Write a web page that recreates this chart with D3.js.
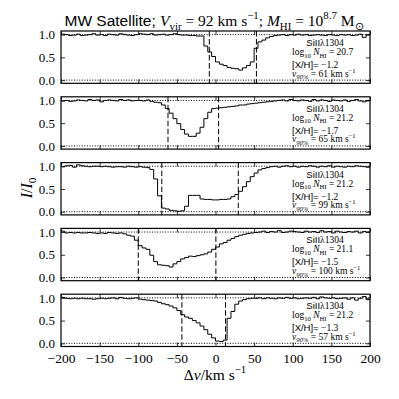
<!DOCTYPE html>
<html lang="en">
<head>
<meta charset="UTF-8">
<script src="https://d3js.org/d3.v7.min.js"></script>
<title>MW Satellite SiII</title>
<style>
    body { margin: 0; background: #fff; }
    svg { display: block; }
    .serif { font-family: "Liberation Serif", serif; }
    .tick text { font-family: "Liberation Serif", serif; fill: #000; }
</style>
</head>
<body>
<div id="chart"></div>
<script>
// bin left edges, km/s (5 km/s pixels)
var velBins = d3.range(-200, 200, 5);

// normalised flux per panel (80 bins each, -200 .. 195)
var flux1 = [
    1.01, 1.00, 0.98, 0.99, 1.01, 0.98, 0.99, 1.00, 1.02, 0.99,
    1.00, 0.98, 1.01, 1.00, 0.99, 1.02, 1.00, 0.99, 0.98, 1.00,
    1.02, 1.01, 1.00, 1.02, 0.99, 1.00, 1.01, 0.99, 1.00, 1.02,
    1.00, 0.99, 0.99, 0.98, 0.98, 0.97, 0.97, 0.75, 0.62, 0.52,
    0.40, 0.35, 0.32, 0.28, 0.26, 0.25, 0.22, 0.27, 0.32, 0.40,
    0.70, 0.84, 0.88, 0.93, 0.96, 0.98, 0.99, 1.00, 0.98, 1.00,
    0.99, 1.01, 0.99, 1.00, 0.98, 0.99, 1.00, 0.99, 0.98, 1.00,
    0.99, 0.98, 1.00, 0.99, 1.00, 0.98, 0.99, 1.01, 0.94, 1.00
];
var flux2 = [
    0.99, 1.00, 0.98, 0.99, 1.01, 1.00, 0.99, 1.02, 1.00, 1.01,
    0.97, 1.00, 1.01, 1.00, 0.99, 1.02, 1.00, 1.01, 0.99, 1.00,
    1.00, 0.99, 1.01, 0.98, 0.96, 0.95, 0.90, 0.82, 0.72, 0.60,
    0.49, 0.36, 0.26, 0.21, 0.21, 0.28, 0.41, 0.60, 0.74, 0.82,
    0.83, 0.84, 0.85, 0.86, 0.87, 0.88, 0.90, 0.90, 0.92, 0.93,
    0.94, 0.95, 0.96, 0.97, 0.98, 0.99, 1.00, 1.01, 0.99, 1.02,
    1.00, 0.99, 1.01, 1.00, 0.98, 1.02, 0.99, 1.01, 1.00, 0.98,
    1.01, 1.00, 0.99, 1.01, 0.98, 1.00, 1.02, 0.99, 0.97, 1.00
];
var flux3 = [
    0.99, 1.01, 1.02, 0.98, 1.03, 1.01, 1.00, 0.99, 1.00, 1.00,
    0.99, 1.00, 0.99, 0.98, 0.99, 0.99, 0.98, 1.00, 0.99, 0.98,
    0.99, 0.98, 0.97, 0.93, 0.72, 0.35, 0.08, 0.06, 0.03, 0.02,
    0.01, 0.02, 0.12, 0.36, 0.36, 0.36, 0.28, 0.27, 0.27, 0.26,
    0.26, 0.27, 0.27, 0.28, 0.33, 0.38, 0.45, 0.55, 0.66, 0.77,
    0.85, 0.92, 0.95, 0.97, 0.99, 1.00, 0.98, 1.00, 1.01, 0.99,
    1.00, 0.98, 1.00, 0.99, 1.01, 1.00, 0.98, 1.00, 0.99, 1.01,
    0.98, 1.00, 0.99, 0.98, 1.00, 0.99, 1.01, 1.00, 0.99, 0.98
];
var flux4 = [
    1.02, 0.98, 0.99, 0.98, 0.99, 0.98, 0.98, 0.99, 0.98, 0.97,
    0.98, 0.97, 0.99, 0.98, 0.97, 0.98, 0.96, 0.93, 0.91, 0.82,
    0.70, 0.65, 0.62, 0.49, 0.35, 0.28, 0.27, 0.26, 0.23, 0.30,
    0.35, 0.41, 0.44, 0.47, 0.46, 0.48, 0.50, 0.52, 0.56, 0.62,
    0.67, 0.74, 0.77, 0.82, 0.86, 0.90, 0.93, 0.95, 0.97, 0.98,
    0.99, 1.00, 1.02, 0.99, 1.01, 1.00, 1.03, 0.99, 1.00, 1.02,
    1.01, 1.00, 0.99, 1.02, 1.00, 1.01, 0.99, 1.03, 1.00, 1.01,
    0.98, 1.02, 1.00, 0.99, 1.01, 1.00, 1.02, 0.98, 1.01, 1.00
];
var flux5 = [
    1.01, 0.99, 0.98, 0.99, 0.98, 0.99, 0.98, 0.98, 0.97, 0.98,
    0.99, 0.98, 0.99, 1.00, 0.98, 1.01, 0.99, 0.98, 0.99, 1.00,
    0.97, 0.96, 0.95, 0.94, 0.93, 0.90, 0.87, 0.85, 0.82, 0.78,
    0.72, 0.63, 0.58, 0.55, 0.50, 0.45, 0.38, 0.30, 0.20, 0.12,
    0.05, 0.04, 0.07, 0.55, 0.70, 0.86, 0.93, 0.96, 0.98, 0.99,
    0.99, 1.00, 0.98, 1.00, 0.99, 0.98, 1.00, 0.99, 1.01, 0.99,
    1.00, 0.98, 0.99, 1.00, 0.99, 1.01, 0.98, 1.02, 1.00, 0.99,
    1.00, 0.98, 0.99, 1.00, 0.97, 1.00, 0.95, 0.99, 1.03, 0.96
];
var fluxes = [flux1, flux2, flux3, flux4, flux5];

// per-panel annotations
var logNHI = ["20.7", "21.2", "21.2", "21.1", "21.2"];
var metal = ["\u22121.2", "\u22121.7", "\u22121.2", "\u22121.5", "\u22121.3"];
var v90 = ["61", "65", "99", "100", "57"];
// v90 window edges (dashed lines), km/s
var v90Lo = [-8, -61.5, -69.5, -100, -43.5];
var v90Hi = [53, 4, 29.5, 0.5, 13];

var xTicks = [-200, -150, -100, -50, 0, 50, 100, 150, 200];
var yTicks = [0, 0.5, 1];

var W = 399, H = 399;
var left = 61, right = 370, top0 = 31, step = 65.8, ph = 52.3;
var pw = right - left;
var SANS = "'Liberation Sans', Arial, sans-serif";

var svg = d3.select("#chart").append("svg")
    .attr("width", W).attr("height", H);

var x = d3.scaleLinear().domain([-200, 200]).range([0, pw]);
var y = d3.scaleLinear().domain([-0.07, 1.08]).range([ph, 0]);

// write text with italic / sub / sup pieces
function rich(sel, parts, size) {
    var shift = 0;
    parts.forEach(function(p) {
        var t = p[0], o = p[1] || "";
        var target = o.indexOf("sub") >= 0 ? size * 0.28 : (o.indexOf("sup") >= 0 ? -size * 0.42 : 0);
        var ts = sel.append("tspan").text(t).attr("dy", target - shift);
        shift = target;
        if (o.indexOf("sub") >= 0 || o.indexOf("sup") >= 0) ts.style("font-size", (size * 0.7) + "px");
        if (o.indexOf("it") >= 0) ts.style("font-style", "italic");
        if (o.indexOf("sans") >= 0) ts.style("font-family", SANS);
    });
}

var line = d3.line()
    .x(function(d) { return x(d[0]); })
    .y(function(d) { return y(d[1]); })
    .curve(d3.curveStepAfter);

fluxes.forEach(function(fl, i) {
    var g = svg.append("g")
        .attr("transform", "translate(" + left + "," + (top0 + i * step) + ")");

    g.append("clipPath").attr("id", "clip" + i)
        .append("rect").attr("width", pw).attr("height", ph);

    // dotted reference lines at 0 and 1
    [0, 1].forEach(function(v) {
        g.append("line")
            .attr("x1", 0).attr("x2", pw)
            .attr("y1", y(v)).attr("y2", y(v))
            .attr("stroke", "#000").attr("stroke-width", 1)
            .attr("stroke-dasharray", "1,1.6");
    });

    // spectrum
    var pts = velBins.map(function(v, k) { return [v, fl[k]]; });
    pts.push([200, fl[fl.length - 1]]);
    g.append("path")
        .datum(pts)
        .attr("clip-path", "url(#clip" + i + ")")
        .attr("fill", "none")
        .attr("stroke", "#000")
        .attr("stroke-width", 1)
        .attr("d", line);

    // v90 window
    [v90Lo[i], v90Hi[i]].forEach(function(v) {
        g.append("line")
            .attr("x1", x(v)).attr("x2", x(v))
            .attr("y1", 0).attr("y2", ph)
            .attr("stroke", "#000").attr("stroke-width", 1)
            .attr("stroke-dasharray", "5.5,2.5");
    });

    // ticks pointing inward on all four sides
    var isLast = i === fluxes.length - 1;
    var bx = g.append("g").attr("transform", "translate(0," + ph + ")")
        .call(d3.axisBottom(x).tickValues(xTicks).tickSizeInner(-4).tickSizeOuter(0).tickPadding(7)
            .tickFormat(isLast ? d3.format("") : ""));
    var tx = g.append("g")
        .call(d3.axisTop(x).tickValues(xTicks).tickSizeInner(-4).tickSizeOuter(0).tickFormat(""));
    var ly = g.append("g")
        .call(d3.axisLeft(y).tickValues(yTicks).tickSizeInner(-4).tickSizeOuter(0).tickPadding(6)
            .tickFormat(d3.format(".1f")));
    var ry = g.append("g").attr("transform", "translate(" + pw + ",0)")
        .call(d3.axisRight(y).tickValues(yTicks).tickSizeInner(-4).tickSizeOuter(0).tickFormat(""));
    [bx, tx, ly, ry].forEach(function(a) {
        a.attr("font-family", null).attr("font-size", null);
        a.select(".domain").remove();
        a.selectAll(".tick line").attr("stroke", "#000").attr("stroke-width", 0.8);
    });
    bx.selectAll("text").style("font-size", "13.5px");
    ly.selectAll("text").style("font-size", "13px");

    // frame
    g.append("rect")
        .attr("width", pw).attr("height", ph)
        .attr("fill", "none").attr("stroke", "#000").attr("stroke-width", 1.2);

    // annotation block
    var fs = 9.5;
    var t1 = g.append("text").attr("class", "serif").style("font-size", fs + "px")
        .attr("x", 325 - left).attr("y", 15).attr("text-anchor", "middle");
    rich(t1, [["SiII", "sans"], ["\u03bb1304"]], fs);
    var t2 = g.append("text").attr("class", "serif").style("font-size", fs + "px")
        .attr("x", 292 - left).attr("y", 24);
    rich(t2, [["log"], ["10", "sub"], [" "], ["N", "it"], ["HI", "sub"], [" = " + logNHI[i]]], fs);
    var t3 = g.append("text").attr("class", "serif").style("font-size", fs + "px")
        .attr("x", 292 - left).attr("y", 37);
    rich(t3, [["[X/H]=", "sans"], [" " + metal[i]]], fs);
    var t4 = g.append("text").attr("class", "serif").style("font-size", fs + "px")
        .attr("x", 292 - left).attr("y", 45.5);
    rich(t4, [["v", "it"], ["90%", "sub it"], [" = " + v90[i] + " km s"], ["\u22121", "sup"]], fs);
});

// title
var title = svg.append("text").attr("class", "serif")
    .attr("x", 214).attr("y", 26).attr("text-anchor", "middle").style("font-size", "15.5px");
rich(title, [
    ["MW Satellite; ", "sans"], ["V", "it"], ["vir", "sub"], [" = 92 km s"], ["\u22121", "sup"],
    ["; "], ["M", "it"], ["HI", "sub"], [" = 10"], ["8.7", "sup"], [" M"], ["\u2299", "sub"]
], 15.5);

// axis labels
var xl = svg.append("text").attr("class", "serif")
    .attr("x", 215).attr("y", 380).attr("text-anchor", "middle").style("font-size", "15.5px");
rich(xl, [["\u0394"], ["v", "it"], ["/km s"], ["\u22121", "sup"]], 15.5);

var yl = svg.append("text").attr("class", "serif")
    .attr("transform", "translate(32,188) rotate(-90)")
    .attr("text-anchor", "middle").style("font-size", "16px");
rich(yl, [["I", "it"], ["/"], ["I", "it"], ["0", "sub"]], 16);
</script>
</body>
</html>
